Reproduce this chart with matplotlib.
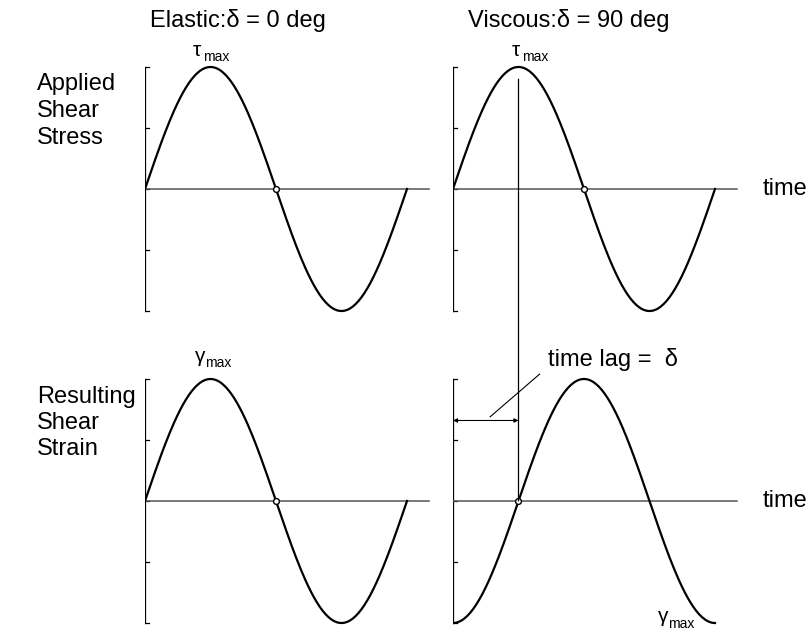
import matplotlib
matplotlib.use("Agg")
import matplotlib.pyplot as plt
from matplotlib.patches import ConnectionPatch
import numpy as np

plt.rcParams['font.family'] = ['Liberation Sans', 'DejaVu Sans']

# schematic data: one period of the applied stress and resulting strain
t_deg = np.arange(0, 361, 2)
phase_lag_deg = [0, 90]            # elastic, viscous
column_titles = ['Elastic:δ = 0 deg', 'Viscous:δ = 90 deg']
row_labels = ['Applied\nShear\nStress', 'Resulting\nShear\nStrain']
y_ticks = [-1, -0.5, 0, 0.5, 1]
axis_end_deg = 390

W, H = 812, 635
PX_PER_DEG = 262 / 360
PX_PER_UNIT = 122
XLIM = (0, 400)
YLIM = (-1.1, 1.1)


def fx(px):
    return px / W


def fy(py):
    return 1 - py / H


fig = plt.figure(figsize=(W / 100, H / 100), dpi=100)


def make_panel(x0_px, yc_px):
    w = (XLIM[1] - XLIM[0]) * PX_PER_DEG
    h = (YLIM[1] - YLIM[0]) * PX_PER_UNIT
    ax = fig.add_axes([fx(x0_px), fy(yc_px + h / 2), w / W, h / H])
    ax.set_xlim(*XLIM)
    ax.set_ylim(*YLIM)
    ax.axis('off')
    # vertical axis with small ticks
    ax.plot([0, 0], [y_ticks[0], y_ticks[-1]], color='black', lw=0.9)
    for yt in y_ticks:
        ax.plot([0, 4 / PX_PER_DEG], [yt, yt], color='black', lw=0.9)
    # time axis
    ax.plot([0, axis_end_deg], [0, 0], color='#555555', lw=1.1)
    return ax


x_left = [145, 453]
y_center = [189, 501]
axes = {}
for r in range(2):
    for c in range(2):
        axes[r, c] = make_panel(x_left[c], y_center[r])

for c, lag in enumerate(phase_lag_deg):
    stress = np.sin(np.radians(t_deg))
    strain = np.sin(np.radians(t_deg - lag))
    axes[0, c].plot(t_deg, stress, color='black', lw=1.6)
    axes[1, c].plot(t_deg, strain, color='black', lw=1.6)
    axes[0, c].plot([180], [0], 'o', ms=4.2, mfc='white', mec='black', mew=1.0)
    axes[1, c].plot([180 if lag == 0 else lag], [0], 'o', ms=4.2,
                    mfc='white', mec='black', mew=1.0)

# column titles
fig.text(fx(150), fy(21), column_titles[0], fontsize=17, va='center', ha='left')
fig.text(fx(468), fy(21), column_titles[1], fontsize=17, va='center', ha='left')

# row labels
fig.text(fx(37), fy(111), row_labels[0], fontsize=17, va='center', ha='left', linespacing=1.27)
fig.text(fx(37), fy(423), row_labels[1], fontsize=17, va='center', ha='left', linespacing=1.23)

# time labels
for yc in y_center:
    fig.text(fx(763), fy(yc), 'time', fontsize=17, va='center', ha='left')


# amplitude labels
def amp_label(x_px, y_px, sym):
    fig.text(fx(x_px), fy(y_px), sym, fontsize=15, va='center', ha='left')
    fig.text(fx(x_px + 10), fy(y_px + 7), 'max', fontsize=10, va='center', ha='left')


amp_label(193, 50, 'τ')
amp_label(512, 50, 'τ')
amp_label(195, 356, 'γ')
amp_label(658, 617, 'γ')

# vertical line marking stress peak down to strain zero crossing
con = ConnectionPatch(xyA=(90, 0.9), coordsA=axes[0, 1].transData,
                      xyB=(90, 0), coordsB=axes[1, 1].transData,
                      color='black', lw=0.9)
fig.add_artist(con)

# time lag arrow
ax = axes[1, 1]
ax.annotate('', xy=(0, 0.66), xytext=(90, 0.66),
            arrowprops=dict(arrowstyle='<|-|>', color='black', lw=0.8,
                            mutation_scale=6, shrinkA=0, shrinkB=0))
ax.plot([51, 119], [0.69, 1.04], color='black', lw=0.8, clip_on=False)
ax.text(130, 1.16, 'time lag =  δ', fontsize=17, va='center', ha='left', clip_on=False)

fig.savefig('out.png', dpi=100)
